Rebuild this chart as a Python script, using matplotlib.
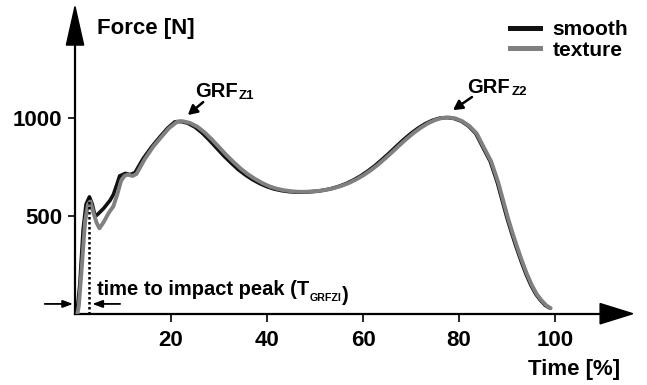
import matplotlib
matplotlib.use("Agg")
import matplotlib.pyplot as plt
from matplotlib.lines import Line2D
from matplotlib.patches import Polygon

plt.rcParams['font.family'] = ['Liberation Sans', 'DejaVu Sans']
plt.rcParams['font.weight'] = 'bold'

# ---- data ----
smooth_x = [0.4, 1.0, 1.7, 2.3, 3.0, 3.6, 4.2, 5.0, 6.0, 7.3, 8.0, 8.7, 9.3, 10.5,
            11.5, 12.5, 14.2, 16.0, 17.7, 19.3, 20.8, 22.0, 23.5, 25.0, 26.5, 28.0,
            29.5, 31.0, 32.5, 34.0, 35.5, 37.0, 38.5, 40.0, 41.5, 43.0, 44.5, 46.0,
            47.5, 49.0, 50.5, 52.0, 53.5, 55.0, 56.5, 58.0, 59.5, 61.0, 62.5, 64.0,
            65.5, 67.0, 68.5, 70.0, 71.5, 73.0, 74.5, 76.0, 77.5, 79.0, 80.5, 82.0,
            83.5, 85.0, 86.5, 88.0, 89.0, 90.0, 91.0, 92.0, 93.0, 94.0, 95.0, 96.0,
            97.0, 98.0, 99.0]
smooth_y = [0, 150, 430, 560, 598, 560, 497, 515, 540, 580, 610, 660, 705, 718,
            712, 722, 794, 855, 905, 950, 982, 984, 975, 955, 925, 888,
            848, 808, 772, 738, 710, 686, 666, 650, 638, 630, 625, 622,
            622, 624, 627, 633, 641, 652, 666, 684, 705, 730, 758, 790,
            823, 858, 892, 923, 950, 973, 990, 1001, 1004, 999, 985, 960,
            922, 850, 780, 670, 580, 490, 410, 335, 265, 200, 145, 100,
            68, 42, 28]

texture_x = [0.5, 0.8, 1.3, 2.1, 2.7, 3.2, 3.8, 4.5, 5.1, 6.0, 7.0, 8.0, 8.8, 9.6,
             10.3, 11.0, 12.0, 12.8, 14.5, 16.3, 18.0, 19.6, 21.3, 22.5, 24.0, 25.5,
             27.0, 28.5, 30.0, 31.5, 33.0, 34.5, 36.0, 37.5, 39.0, 40.5, 42.0, 43.5,
             45.0, 46.5, 48.0, 49.5, 51.0, 52.5, 54.0, 55.5, 57.0, 58.5, 60.0, 61.5,
             63.0, 64.5, 66.0, 67.5, 69.0, 70.5, 72.0, 73.5, 75.0, 76.5, 78.0, 79.3,
             80.7, 82.2, 83.7, 85.2, 86.7, 88.2, 89.2, 90.2, 91.2, 92.2, 93.2, 94.2,
             95.2, 96.2, 97.2, 98.2, 99.1]
texture_y = [0, 40, 200, 470, 560, 575, 520, 465, 437, 470, 515, 550, 610, 680,
             705, 712, 705, 715, 790, 855, 905, 950, 983, 985, 976, 957,
             928, 892, 853, 813, 777, 743, 714, 690, 669, 652, 640, 632,
             627, 624, 624, 626, 629, 635, 643, 654, 668, 686, 707, 732,
             760, 792, 825, 860, 893, 924, 951, 974, 991, 1002, 1004, 999,
             985, 960, 922, 850, 780, 670, 580, 490, 410, 335, 265, 200,
             145, 100, 68, 42, 28]

x_ticks = [20, 40, 60, 80, 100]
y_ticks = [500, 1000]
impact_time = 3.0
impact_force = 595

FS = 16

fig = plt.figure(figsize=(6.47, 3.85), dpi=100)
ax = fig.add_axes([75 / 647, (385 - 313.7) / 385, 556.8 / 647, 308.7 / 385])
ax.set_xlim(0, 116)
ax.set_ylim(0, 1580)

for s in ['top', 'right']:
    ax.spines[s].set_visible(False)
for s in ['left', 'bottom']:
    ax.spines[s].set_linewidth(1.6)
ax.spines['bottom'].set_bounds(0, 110)
ax.spines['left'].set_bounds(0, 1400)

ax.set_xticks(x_ticks)
ax.set_yticks(y_ticks)
ax.set_xticklabels([str(v) for v in x_ticks])
ax.set_yticklabels([str(v) for v in y_ticks])
ax.tick_params(axis='x', direction='out', length=6, width=1.2, pad=6, labelsize=FS)
ax.tick_params(axis='y', direction='out', length=5, width=1.2, pad=4, labelsize=FS)
for lab in ax.get_xticklabels() + ax.get_yticklabels():
    lab.set_fontweight('bold')

# arrow heads of axes
ax.add_patch(Polygon([[116.2, 0], [109.4, 52], [109.4, -52]], closed=True,
                     color='black', clip_on=False, zorder=5))
ax.add_patch(Polygon([[0, 1572], [-1.8, 1375], [1.8, 1375]], closed=True,
                     color='black', clip_on=False, zorder=5))

# curves
ax.plot(smooth_x, smooth_y, color='#111111', lw=2.6, zorder=3,
        solid_capstyle='round', solid_joinstyle='round')
ax.plot(texture_x, texture_y, color='#808080', lw=2.8, zorder=4,
        solid_capstyle='round', solid_joinstyle='round')

# impact peak dotted line
ax.plot([impact_time, impact_time], [0, impact_force], color='black', lw=1.8,
        linestyle=(0, (1, 1)), zorder=5)

# small arrows
ax.annotate('', xy=(-0.4, 50), xytext=(-6.3, 50), annotation_clip=False,
            arrowprops=dict(arrowstyle='-|>,head_length=0.6,head_width=0.22',
                            color='black', lw=1.3, shrinkA=0, shrinkB=0))
ax.annotate('', xy=(3.6, 50), xytext=(9.4, 50), annotation_clip=False,
            arrowprops=dict(arrowstyle='-|>,head_length=0.6,head_width=0.22',
                            color='black', lw=1.3, shrinkA=0, shrinkB=0))

# time to impact peak label
t1 = ax.text(4.6, 96, 'time to impact peak (T', fontsize=14.5, fontweight='bold',
             ha='left', va='baseline')
t2 = ax.annotate('GRFZI', xy=(1, 0), xycoords=t1, xytext=(0.5, -1.5),
                 textcoords='offset points', fontsize=7.7, fontweight='bold',
                 ha='left', va='baseline')
ax.annotate(')', xy=(1, 0), xycoords=t2, xytext=(0.3, 1.5),
            textcoords='offset points', fontsize=14.5, fontweight='bold',
            ha='left', va='baseline')

# GRF labels
g1 = ax.text(25.0, 1109, 'GRF', fontsize=14.5, fontweight='bold',
             ha='left', va='baseline')
ax.annotate('Z1', xy=(1, 0), xycoords=g1, xytext=(1, -0.5),
            textcoords='offset points', fontsize=9.5, fontweight='bold',
            ha='left', va='bottom')
ax.annotate('', xy=(23.5, 1017), xytext=(26.7, 1083),
            arrowprops=dict(arrowstyle='-|>,head_length=0.55,head_width=0.3',
                            color='black', lw=1.8, shrinkA=0, shrinkB=0))

g2 = ax.text(81.7, 1129, 'GRF', fontsize=14.5, fontweight='bold',
             ha='left', va='baseline')
ax.annotate('Z2', xy=(1, 0), xycoords=g2, xytext=(1, -0.5),
            textcoords='offset points', fontsize=9.5, fontweight='bold',
            ha='left', va='bottom')
ax.annotate('', xy=(78.75, 1042), xytext=(82.7, 1109),
            arrowprops=dict(arrowstyle='-|>,head_length=0.55,head_width=0.3',
                            color='black', lw=1.8, shrinkA=0, shrinkB=0))

# axis labels
ax.text(4.6, 1462, 'Force [N]', fontsize=FS, fontweight='bold', ha='left', va='center')
ax.text(113.5, -288, 'Time [%]', fontsize=FS, fontweight='bold', ha='right',
        va='center', clip_on=False)

# legend
handles = [Line2D([], [], color='#111111', lw=3.6),
           Line2D([], [], color='#808080', lw=3.6)]
fig.legend(handles, ['smooth', 'texture'], loc='upper left',
           bbox_to_anchor=(510 / 647, 1 - 20 / 385), bbox_transform=fig.transFigure,
           frameon=False, prop={'weight': 'bold', 'size': 15},
           handlelength=1.45, handletextpad=0.6, labelspacing=0.08,
           borderpad=0, borderaxespad=0)

fig.savefig('out.png', dpi=100)
